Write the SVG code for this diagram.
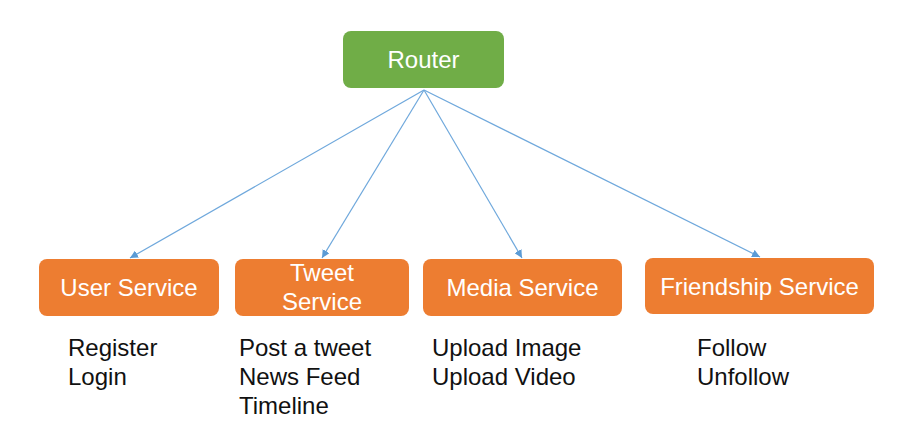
<svg xmlns="http://www.w3.org/2000/svg" width="902" height="437" viewBox="0 0 902 437">
<style>
.box{fill:#ED7D31;}
.root{fill:#70AD47;}
.lbl{font-family:"Liberation Sans",Arial,sans-serif;font-size:24px;fill:#ffffff;text-anchor:middle;}
.txt{font-family:"Liberation Sans",Arial,sans-serif;font-size:24px;fill:#111111;}
.edge{stroke:#6FA8DC;stroke-width:1.2;fill:none;marker-end:url(#arr);}
</style>
<defs>
<marker id="arr" viewBox="0 0 10 10" refX="10" refY="5" markerWidth="8" markerHeight="8" markerUnits="userSpaceOnUse" orient="auto">
<path d="M0,0 L10,5 L0,10 z" fill="#5B9BD5"/>
</marker>
</defs>
<rect width="902" height="437" fill="#ffffff"/>
<g id="connectors">
<line class="edge" x1="424" y1="90" x2="130" y2="258"/>
<line class="edge" x1="424" y1="90" x2="322" y2="258"/>
<line class="edge" x1="424" y1="90" x2="522" y2="258"/>
<line class="edge" x1="424" y1="90" x2="760" y2="257"/>
</g>
<g id="router">
<rect class="root" x="343" y="31" width="161" height="57" rx="8"/>
<text class="lbl" x="423.5" y="68">Router</text>
</g>
<g id="user-service">
<rect class="box" x="39" y="259" width="180" height="57" rx="8"/>
<text class="lbl" x="129" y="296">User Service</text>
<text class="txt" x="68" y="356">Register</text>
<text class="txt" x="68" y="385">Login</text>
</g>
<g id="tweet-service">
<rect class="box" x="235" y="259" width="174" height="57" rx="8"/>
<text class="lbl" x="322" y="281">Tweet</text>
<text class="lbl" x="322" y="310">Service</text>
<text class="txt" x="239" y="356">Post a tweet</text>
<text class="txt" x="239" y="385">News Feed</text>
<text class="txt" x="239" y="414">Timeline</text>
</g>
<g id="media-service">
<rect class="box" x="423" y="259" width="199" height="57" rx="8"/>
<text class="lbl" x="522.5" y="296">Media Service</text>
<text class="txt" x="432" y="356">Upload Image</text>
<text class="txt" x="432" y="385">Upload Video</text>
</g>
<g id="friendship-service">
<rect class="box" x="645" y="258" width="229" height="56" rx="8"/>
<text class="lbl" x="759.5" y="295">Friendship Service</text>
<text class="txt" x="697" y="356">Follow</text>
<text class="txt" x="697" y="385">Unfollow</text>
</g>
</svg>
